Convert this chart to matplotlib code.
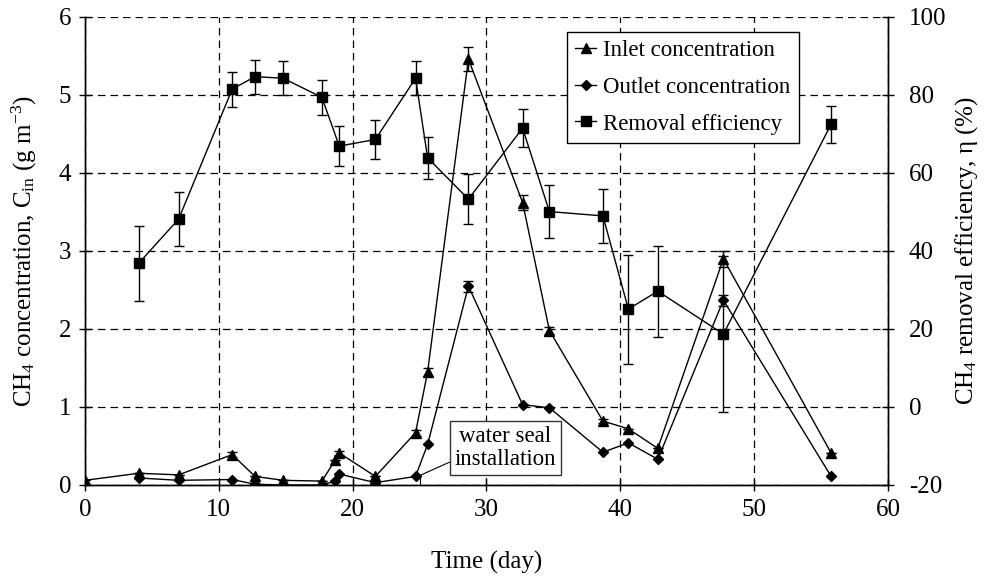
import matplotlib
matplotlib.use("Agg")
import matplotlib.pyplot as plt
from matplotlib.lines import Line2D

plt.rcParams["font.family"] = ["Liberation Serif", "DejaVu Serif"]
plt.rcParams["mathtext.fontset"] = "custom"
plt.rcParams["mathtext.rm"] = "Liberation Serif"
plt.rcParams["mathtext.it"] = "Liberation Serif:italic"
plt.rcParams["mathtext.default"] = "regular"

# Sampling days
days_conc = [0, 4, 7, 11, 12.7, 14.8, 17.7, 18.7, 19.0, 21.7, 24.7, 25.6,
             28.65, 32.7, 34.7, 38.7, 40.6, 42.8, 47.7, 55.75]
days_out = [4, 7, 11, 12.7, 14.8, 17.7, 18.7, 19.0, 21.7, 24.7, 25.6,
            28.65, 32.7, 34.7, 38.7, 40.6, 42.8, 47.7, 55.75]
days_eff = [4, 7, 11, 12.7, 14.8, 17.7, 19.0, 21.7, 24.7, 25.6, 28.65,
            32.7, 34.7, 38.7, 40.6, 42.8, 47.7, 55.75]

# CH4 inlet / outlet concentration (g m-3)
inlet = [0.06, 0.15, 0.13, 0.39, 0.11, 0.06, 0.05, 0.32, 0.41, 0.11, 0.67, 1.45,
         5.46, 3.62, 1.98, 0.82, 0.72, 0.47, 2.90, 0.41]
inlet_err = [0.0, 0.0, 0.0, 0.03, 0.0, 0.0, 0.0, 0.0, 0.03, 0.0, 0.04, 0.05,
             0.15, 0.10, 0.04, 0.03, 0.0, 0.0, 0.10, 0.0]
outlet = [0.09, 0.06, 0.07, 0.01, 0.0, 0.0, 0.05, 0.14, 0.03, 0.11, 0.52,
          2.55, 1.03, 0.99, 0.42, 0.54, 0.33, 2.37, 0.11]
outlet_err = [0.0, 0.0, 0.0, 0.0, 0.0, 0.0, 0.0, 0.0, 0.0, 0.0, 0.0,
              0.07, 0.0, 0.0, 0.0, 0.0, 0.0, 0.07, 0.0]

# Removal efficiency (%)
efficiency = [36.8, 48.2, 81.5, 84.7, 84.3, 79.4, 66.9, 68.6, 84.3, 63.9, 53.3,
              71.5, 50.1, 49.0, 25.1, 29.7, 18.7, 72.5]
efficiency_err = [9.5, 7.0, 4.5, 4.4, 4.4, 4.5, 5.2, 5.1, 4.4, 5.4, 6.5,
                  4.9, 6.8, 6.9, 14.0, 11.7, 20.0, 4.8]

x_ticks = [0, 10, 20, 30, 40, 50, 60]
left_ticks = [0, 1, 2, 3, 4, 5, 6]
right_ticks = [-20, 0, 20, 40, 60, 80, 100]

FS = 18

fig = plt.figure(figsize=(9.86, 5.8), dpi=100)
ax = fig.add_axes([0.0862, 0.1638, 0.8144, 0.8069])
ax2 = ax.twinx()

line_kw = dict(color="black", lw=1.0, capsize=3.5, elinewidth=1.0,
               capthick=1.0, markeredgecolor="black", markerfacecolor="black")

ax.errorbar(days_conc, inlet, yerr=inlet_err, marker="^", ms=7, **line_kw)
ax.errorbar(days_out, outlet, yerr=outlet_err, marker="D", ms=5.5, **line_kw)
ax2.errorbar(days_eff, efficiency, yerr=efficiency_err, marker="s", ms=7,
             **line_kw)

ax.set_xlim(0, 60)
ax.set_ylim(0, 6)
ax2.set_ylim(-20, 100)
ax.set_xticks(x_ticks)
ax.set_yticks(left_ticks)
ax2.set_yticks(right_ticks)
ax.set_yticklabels([str(v) for v in left_ticks])
ax2.set_yticklabels([str(v) for v in right_ticks])

ax.grid(True, color="black", linestyle=(0, (6, 4)), linewidth=0.9)
ax.set_axisbelow(True)

for a in (ax, ax2):
    a.spines["top"].set_visible(False)
    for s in ("left", "right", "bottom"):
        a.spines[s].set_linewidth(1.0)
    a.tick_params(direction="inout", length=8, width=1.0, labelsize=FS,
                  pad=6)
ax2.tick_params(axis="y", pad=11)

ax.set_xlabel("Time (day)", fontsize=FS)
ax.xaxis.set_label_coords(0.5, -0.14)
ax.set_ylabel("CH$_4$ concentration, C$_{in}$ (g m$^{-3}$)", fontsize=FS,
              va="center")
ax.yaxis.set_label_coords(-0.075, 0.5)
ax2.set_ylabel("CH$_4$ removal efficiency, η (%)", fontsize=FS,
               va="center", rotation=90)
ax2.yaxis.set_label_coords(1.098, 0.5)

handles = [
    Line2D([], [], color="black", lw=1.0, marker="^", ms=7),
    Line2D([], [], color="black", lw=1.0, marker="D", ms=5.5),
    Line2D([], [], color="black", lw=1.0, marker="s", ms=7),
]
labels = ["Inlet concentration", "Outlet concentration", "Removal efficiency"]
leg = ax2.legend(handles, labels, loc="upper right",
                 bbox_to_anchor=(0.889, 0.969), fontsize=16.5,
                 frameon=True, fancybox=False, edgecolor="black",
                 framealpha=1.0, handlelength=0.9, handletextpad=0.3,
                 borderpad=0.38, labelspacing=0.68, borderaxespad=0)
leg.get_frame().set_linewidth(1.0)

# "water seal installation" callout
ax2.annotate("water seal\ninstallation", xy=(25.0, -17.6),
             xytext=(31.4, -10.5), textcoords="data", xycoords="data",
             fontsize=16.5, ha="center", va="center", linespacing=1.15,
             bbox=dict(boxstyle="square,pad=0.2", fc="white", ec="#333333",
                       lw=1.0),
             arrowprops=dict(arrowstyle="-", color="black", lw=0.8,
                             shrinkA=0, shrinkB=0, relpos=(0.0, 0.23)))
ax2.plot([25.0, 25.0], [-20, -17.6], color="black", lw=0.8)

fig.savefig("out.png", dpi=100)
